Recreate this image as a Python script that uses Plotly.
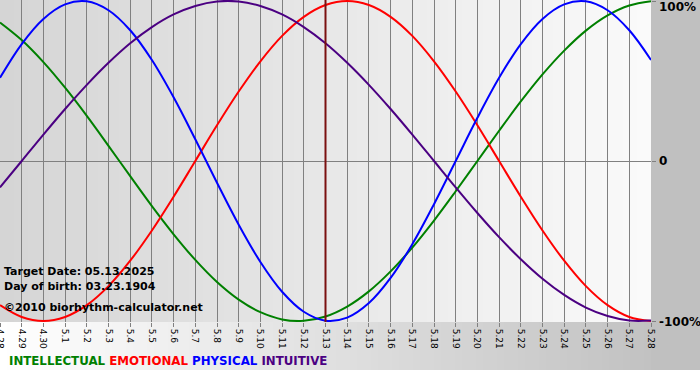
import plotly.graph_objects as go

# ---- data ----
dates = ["4.28", "4.29", "4.30", "5.1", "5.2", "5.3", "5.4", "5.5", "5.6", "5.7",
         "5.8", "5.9", "5.10", "5.11", "5.12", "5.13", "5.14", "5.15", "5.16", "5.17",
         "5.18", "5.19", "5.20", "5.21", "5.22", "5.23", "5.24", "5.25", "5.26", "5.27", "5.28"]
intellectual = [86.6, 75.6, 61.8, 45.8, 28.2, 9.5, -9.5, -28.2, -45.8, -61.8, -75.6, -86.6,
                -94.5, -99.0, -99.9, -97.2, -91.0, -81.5, -69.0, -54.1, -37.2, -18.9, 0.0,
                18.9, 37.2, 54.1, 69.0, 81.5, 91.0, 97.2, 99.9]
emotional = [-90.1, -97.5, -100.0, -97.5, -90.1, -78.2, -62.3, -43.4, -22.3, 0.0, 22.3, 43.4,
             62.3, 78.2, 90.1, 97.5, 100.0, 97.5, 90.1, 78.2, 62.3, 43.4, 22.3, 0.0, -22.3,
             -43.4, -62.3, -78.2, -90.1, -97.5, -100.0]
physical = [52.0, 73.1, 88.8, 97.9, 99.8, 94.2, 81.7, 63.1, 39.8, 13.6, -13.6, -39.8, -63.1,
            -81.7, -94.2, -99.8, -97.9, -88.8, -73.1, -52.0, -27.0, 0.0, 27.0, 52.0, 73.1,
            88.8, 97.9, 99.8, 94.2, 81.7, 63.1]
intuitive = [-16.5, 0.0, 16.5, 32.5, 47.6, 61.4, 73.6, 83.7, 91.6, 96.9, 99.7, 99.7, 96.9,
             91.6, 83.7, 73.6, 61.4, 47.6, 32.5, 16.5, 0.0, -16.5, -32.5, -47.6, -61.4, -73.6,
             -83.7, -91.6, -96.9, -99.7, -99.7]
series_names = ["INTELLECTUAL", "EMOTIONAL", "PHYSICAL", "INTUITIVE"]
series_colors = ["#008000", "#ff0000", "#0000ff", "#4b0082"]
y_ticks = [100, 0, -100]
y_tick_labels = ["100%", "0", "-100%"]
target_date = "5.13"
info_lines = ["Target Date: 05.13.2025", "Day of birth: 03.23.1904", "©2010 biorhythm-calculator.net"]

W, H = 700, 380
ML, MR, MT, MB = 0, 49, 0, 58
PW, PH = W - ML - MR, H - MT - MB


def px_x(px):
    return (px - ML) / PW


def px_y(py):
    return (MT + PH - py) / PH


def mix(c1, c2, t):
    return "rgb(%d,%d,%d)" % tuple(round(a + (b - a) * t) for a, b in zip(c1, c2))


fig = go.Figure()
for name, vals, col in zip(series_names, [intellectual, emotional, physical, intuitive], series_colors):
    fig.add_trace(go.Scatter(x=dates, y=vals, mode="lines", name=name,
                             line=dict(color=col, width=2, shape="spline", smoothing=1),
                             hoverinfo="skip"))

shapes = []
# outer background gradient (below plot and right side)
N = 93
for i in range(N):
    x0 = i * PW / N
    x1 = (i + 1) * PW / N + 0.8
    shapes.append(dict(type="rect", xref="paper", yref="paper", layer="below",
                       x0=px_x(x0), x1=px_x(x1), y0=px_y(370), y1=px_y(PH),
                       fillcolor=mix((255, 255, 255), (194, 194, 194), i / (N - 1)),
                       line=dict(width=0)))
shapes.append(dict(type="rect", xref="paper", yref="paper", layer="below",
                   x0=px_x(PW), x1=px_x(W), y0=px_y(370), y1=px_y(0),
                   fillcolor="rgb(192,192,192)", line=dict(width=0)))
# plot area gradient
for i in range(N):
    x0 = i * PW / N
    x1 = (i + 1) * PW / N + 0.8
    shapes.append(dict(type="rect", xref="paper", yref="paper", layer="below",
                       x0=px_x(x0), x1=px_x(min(x1, PW)), y0=0, y1=1,
                       fillcolor=mix((213, 213, 213), (250, 250, 250), i / (N - 1)),
                       line=dict(width=0)))
# target date line
t_idx = dates.index(target_date)
shapes.append(dict(type="line", xref="x", yref="paper", layer="above",
                   x0=t_idx, x1=t_idx, y0=0, y1=1,
                   line=dict(color="#7a1010", width=2)))

annotations = []
font_b = dict(family="DejaVu Sans", size=11, color="#000000", weight="bold")
for txt, py in zip(info_lines, [271, 286, 307]):
    annotations.append(dict(text=txt, xref="paper", yref="paper", x=px_x(2), y=px_y(py),
                            xanchor="left", yanchor="middle", showarrow=False, font=font_b))
for lab, yv, py in zip(y_tick_labels, y_ticks, [7, 161, 322]):
    annotations.append(dict(text=lab, xref="paper", yref="paper", x=px_x(657), y=px_y(py),
                            xanchor="left", yanchor="middle", showarrow=False,
                            font=dict(family="DejaVu Sans", size=12, color="#000000", weight="bold")))
legend_txt = "&nbsp;".join('<span style="color:%s">%s</span>' % (c, n)
                           for n, c in zip(series_names, series_colors))
annotations.append(dict(text=legend_txt, xref="paper", yref="paper", x=px_x(7), y=px_y(361),
                        xanchor="left", yanchor="middle", showarrow=False,
                        font=dict(family="DejaVu Sans", size=11.8, weight="bold")))

fig.update_layout(
    width=W, height=H,
    margin=dict(l=ML, r=MR, t=MT, b=MB, pad=0, autoexpand=False),
    paper_bgcolor="#ffffff", plot_bgcolor="rgba(0,0,0,0)",
    showlegend=False,
    shapes=shapes, annotations=annotations,
    xaxis=dict(type="category", range=[0, len(dates) - 1], showgrid=True, gridcolor="#808080",
               gridwidth=1, zeroline=False, showline=False, automargin=False,
               ticks="outside", ticklen=4, tickcolor="#808080", tickangle=90,
               tickfont=dict(family="DejaVu Sans", size=9, color="#000000"), fixedrange=True),
    yaxis=dict(range=[-100.625, 100.625], side="right", tickvals=y_ticks, automargin=False,
               showticklabels=False, showgrid=True, gridcolor="#808080", gridwidth=1,
               zeroline=False, ticks="outside", ticklen=4, tickcolor="#808080", fixedrange=True),
)

fig.write_html("out.html", config={"displayModeBar": False},
               post_script="document.body.style.margin='0px';document.body.style.overflow='hidden';")
